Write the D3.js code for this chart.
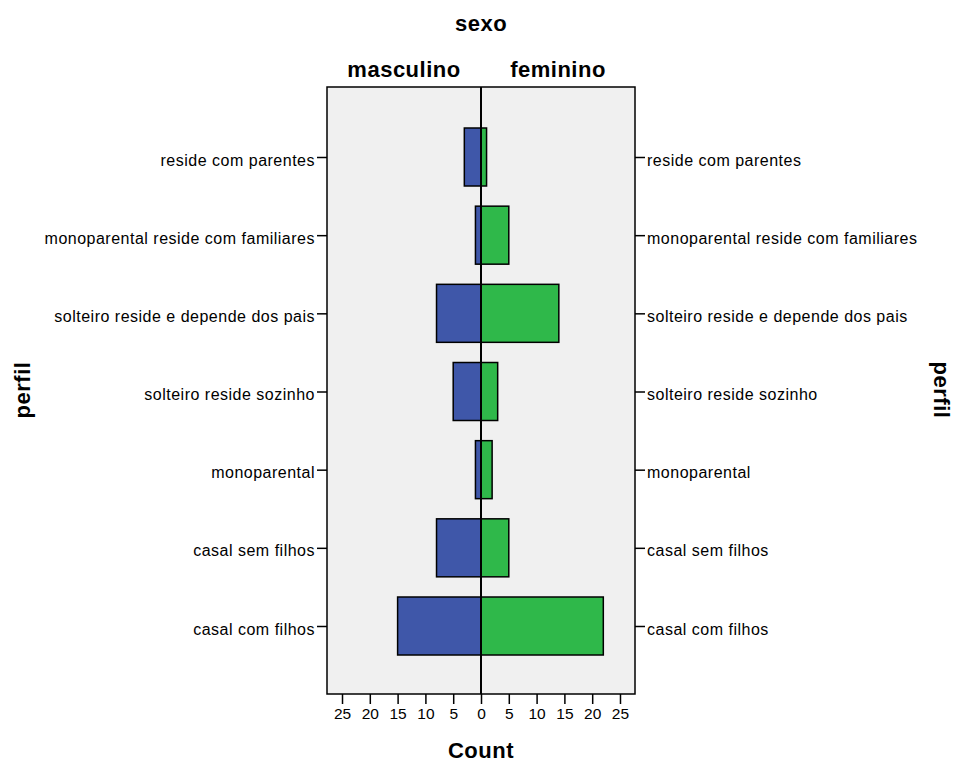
<!DOCTYPE html>
<html><head><meta charset="utf-8">
<script src="https://cdn.jsdelivr.net/npm/d3@7"></script>
<style>body{margin:0;background:#fff}svg{display:block}text{font-family:"Liberation Sans",Arial,sans-serif;fill:#000}</style>
</head><body><svg id="c" width="957" height="764"></svg>
<script>
const categories = ["reside com parentes","monoparental reside com familiares","solteiro reside e depende dos pais","solteiro reside sozinho","monoparental","casal sem filhos","casal com filhos"];
const masculino = [3,1,8,5,1,8,15];
const feminino = [1,5,14,3,2,5,22];
const tickValues = [0,5,10,15,20,25];

const svg = d3.select("#c");
const L = 327, R = 635, T = 87, B = 694, C = 481;
const xL = d3.scaleLinear().domain([0,27.7]).range([C, L]);
const xR = d3.scaleLinear().domain([0,27.7]).range([C, R]);
const y = d3.scalePoint().domain(categories).range([157, 626]);
const bh = 58;

svg.append("rect").attr("x",L).attr("y",T).attr("width",R-L).attr("height",B-T).attr("fill","#f0f0f0");

categories.forEach((c,i)=>{
  svg.append("rect").attr("x",xL(masculino[i])).attr("y",y(c)-bh/2).attr("width",C-xL(masculino[i])).attr("height",bh)
    .attr("fill","#3f57a9").attr("stroke","#000").attr("stroke-width",1.5);
  svg.append("rect").attr("x",C).attr("y",y(c)-bh/2).attr("width",xR(feminino[i])-C).attr("height",bh)
    .attr("fill","#2fb84a").attr("stroke","#000").attr("stroke-width",1.5);
});

svg.append("rect").attr("x",L).attr("y",T).attr("width",R-L).attr("height",B-T).attr("fill","none").attr("stroke","#000").attr("stroke-width",1.5);
svg.append("line").attr("x1",C).attr("x2",C).attr("y1",T).attr("y2",B).attr("stroke","#000").attr("stroke-width",2);

// y axes
const yAxL = svg.append("g").attr("transform",`translate(${L},0)`).call(d3.axisLeft(y).tickSize(10).tickPadding(2));
const yAxR = svg.append("g").attr("transform",`translate(${R},0)`).call(d3.axisRight(y).tickSize(10).tickPadding(2));
[yAxL,yAxR].forEach(g=>{
  g.select(".domain").remove();
  g.selectAll(".tick line").attr("stroke","#000").attr("stroke-width",1.5);
  g.selectAll(".tick text").attr("font-size",16).attr("letter-spacing","0.5px").attr("dy","0.5em")
    .attr("font-family","Liberation Sans, Arial, sans-serif").attr("fill","#000");
});

// x axes
const xaL = svg.append("g").attr("transform",`translate(0,${B})`).call(d3.axisBottom(xL).tickValues(tickValues.slice(1)).tickSize(10).tickPadding(4));
const xaR = svg.append("g").attr("transform",`translate(0,${B})`).call(d3.axisBottom(xR).tickValues(tickValues).tickSize(10).tickPadding(4));
[xaL,xaR].forEach(g=>{
  g.select(".domain").remove();
  g.selectAll(".tick line").attr("stroke","#000").attr("stroke-width",1.5);
  g.selectAll(".tick text").attr("font-size",15.5).attr("font-family","Liberation Sans, Arial, sans-serif").attr("fill","#000");
});

function title(x,yy,t,transform){
  const el = svg.append("text").attr("text-anchor","middle").attr("font-size",22).attr("font-weight","bold").attr("letter-spacing","0.5px").text(t);
  if(transform) el.attr("transform",transform); else el.attr("x",x).attr("y",yy);
  return el;
}
title(C,758,"Count");
title(C,31,"sexo");
title((L+C)/2,77,"masculino");
title((C+R)/2,77,"feminino");
title(0,0,"perfil","translate(30,390) rotate(-90)");
title(0,0,"perfil","translate(934,390) rotate(90)");
</script></body></html>
